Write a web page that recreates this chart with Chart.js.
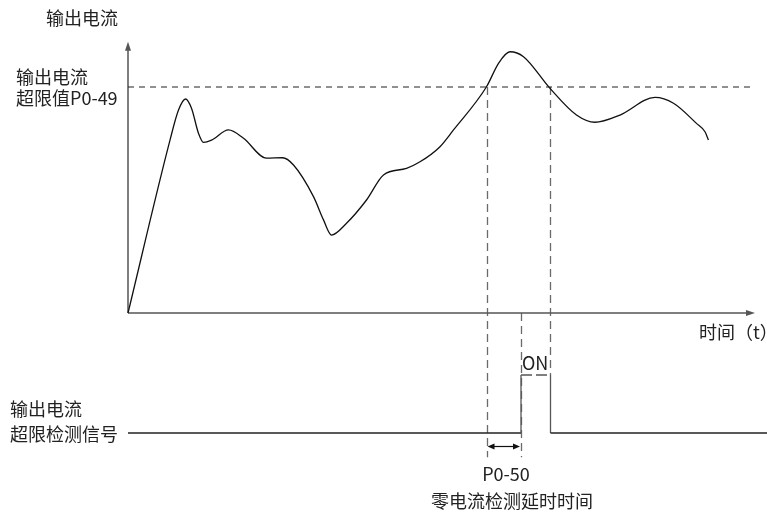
<!DOCTYPE html>
<html>
<head>
<meta charset="utf-8">
<script src="https://cdn.jsdelivr.net/npm/chart.js@4/dist/chart.umd.min.js"></script>
<style>
  body { margin: 0; background: #fff; }
  #wrap { position: relative; width: 767px; height: 512px; }
  .lbl { position: absolute; font-family: "Noto Sans CJK SC", "Noto Sans", sans-serif; font-size: 18px;
         line-height: 18px; color: #222; white-space: nowrap; transform: translateY(-50%); }
  .mid { transform: translate(-50%, -50%); }
</style>
</head>
<body>
<div id="wrap">
  <canvas id="c" width="767" height="512"></canvas>
  <div class="lbl" style="left:46px;top:17px">输出电流</div>
  <div class="lbl" style="left:16px;top:76px">输出电流</div>
  <div class="lbl" style="left:16px;top:97px">超限值P0-49</div>
  <div class="lbl" style="left:10px;top:408px">输出电流</div>
  <div class="lbl" style="left:10px;top:433px">超限检测信号</div>
  <div class="lbl" style="left:699px;top:331px">时间（t）</div>
  <div class="lbl" style="left:522px;top:362px">ON</div>
  <div class="lbl mid" style="left:506px;top:473px">P0-50</div>
  <div class="lbl mid" style="left:512px;top:500px">零电流检测延时时间</div>
</div>
<script>
// output current curve (time, current), threshold P0-49 = 100
var curveT = [0, 8.4, 10.1, 11.5, 12.7, 14.1, 15.1, 16.7, 20.1, 23.1, 27.7, 30.9, 33.1, 37.1, 39.1, 40.7, 43.7, 47.7,
              51.1, 55.7, 58.4, 62.4, 65.1, 71.7, 74.1, 76.4, 79.1, 84.4, 89.7, 93.4, 98.4, 105.4, 109.1, 113.7, 115.4, 116.1];
var curveI = [0, 76.5, 89.8, 94.7, 90.6, 79.5, 75.5, 76.5, 81.0, 77.3, 68.5, 68.7, 65.5, 51.5, 41.2, 34.5, 39.7, 50.0,
              61.1, 64.0, 66.9, 73.6, 81.0, 100.1, 110.5, 115.6, 113.4, 99.4, 87.6, 84.4, 87.6, 95.4, 92.8, 83.9, 80.2, 76.5];
var threshold = 100;
var axisEndT = 125.4;
var axisTopI = 120;
// detection signal (0 = off, 1 = ON)
var signalT = [0, 78.6, 78.6, 84.5, 84.5, 128];
var signalV = [0, 0, 1, 1, 0, 0];
// guide lines: exceed point, after delay, drop point
var guideT = [71.7, 78.6, 84.5];
var delayArrowV = -0.22;

function pts(xs, ys) { return xs.map(function (x, i) { return { x: x, y: ys[i] }; }); }

var guides = {
  id: 'guides',
  beforeDatasetsDraw: function (chart) {
    var ctx = chart.ctx, x = chart.scales.x, y = chart.scales.y, ys = chart.scales.ys;
    var x0 = x.getPixelForValue(0), y0 = y.getPixelForValue(0);
    ctx.save();
    // vertical dashed guides
    ctx.strokeStyle = '#6a6a6a'; ctx.lineWidth = 1.3; ctx.setLineDash([8, 5]);
    var tops = [y.getPixelForValue(threshold), y0, y.getPixelForValue(threshold)];
    var bots = [ys.getPixelForValue(-0.42), ys.getPixelForValue(-0.42), ys.getPixelForValue(1)];
    guideT.forEach(function (t, i) {
      var px = Math.round(x.getPixelForValue(t)) + 0.5;
      ctx.beginPath(); ctx.moveTo(px, tops[i]); ctx.lineTo(px, bots[i]); ctx.stroke();
    });
    ctx.setLineDash([]);
    // axes
    ctx.strokeStyle = '#555'; ctx.fillStyle = '#555'; ctx.lineWidth = 1.5;
    var xe = x.getPixelForValue(axisEndT), yt = y.getPixelForValue(axisTopI);
    ctx.beginPath(); ctx.moveTo(x0, y0); ctx.lineTo(xe - 6, y0); ctx.moveTo(x0, y0); ctx.lineTo(x0, yt + 6); ctx.stroke();
    ctx.beginPath(); ctx.moveTo(xe, y0); ctx.lineTo(xe - 9, y0 - 3); ctx.lineTo(xe - 9, y0 + 3); ctx.closePath(); ctx.fill();
    ctx.beginPath(); ctx.moveTo(x0, yt); ctx.lineTo(x0 - 3, yt + 9); ctx.lineTo(x0 + 3, yt + 9); ctx.closePath(); ctx.fill();
    // delay double arrow
    var a = x.getPixelForValue(guideT[0]) + 1, b = x.getPixelForValue(guideT[1]) - 1, ay = Math.round(ys.getPixelForValue(delayArrowV)) + 0.5;
    ctx.strokeStyle = '#111'; ctx.fillStyle = '#111'; ctx.lineWidth = 1.2;
    ctx.beginPath(); ctx.moveTo(a + 4, ay); ctx.lineTo(b - 4, ay); ctx.stroke();
    ctx.beginPath(); ctx.moveTo(a, ay); ctx.lineTo(a + 7, ay - 3); ctx.lineTo(a + 7, ay + 3); ctx.closePath(); ctx.fill();
    ctx.beginPath(); ctx.moveTo(b, ay); ctx.lineTo(b - 7, ay - 3); ctx.lineTo(b - 7, ay + 3); ctx.closePath(); ctx.fill();
    ctx.restore();
  }
};

new Chart(document.getElementById('c'), {
  type: 'line',
  data: {
    datasets: [{
      data: pts(curveT, curveI),
      borderColor: '#111', borderWidth: 1.3, pointRadius: 0,
      cubicInterpolationMode: 'monotone'
    }, {
      data: pts([0, axisEndT], [threshold, threshold]),
      borderColor: '#222', borderWidth: 1.2, borderDash: [6, 5], pointRadius: 0
    }, {
      yAxisID: 'ys',
      data: pts(signalT, signalV),
      borderColor: '#222', borderWidth: 1.3, pointRadius: 0, tension: 0,
      segment: {
        borderColor: function (c) { return c.p0.parsed.x === c.p1.parsed.x || c.p0.parsed.y === 1 ? '#555' : '#222'; },
        borderDash: function (c) { return c.p0.parsed.y === 1 && c.p1.parsed.y === 1 ? [11, 4] : undefined; }
      }
    }]
  },
  plugins: [guides],
  options: {
    responsive: false, animation: false, events: [],
    layout: { padding: 0 },
    plugins: { legend: { display: false }, tooltip: { enabled: false } },
    scales: {
      x: { type: 'linear', min: -25.6, max: 127.8, display: false },
      y: { min: -88.05, max: 138.5, display: false },
      ys: { min: -1.362, max: 7.466, display: false }
    }
  }
});
</script>
</body>
</html>
